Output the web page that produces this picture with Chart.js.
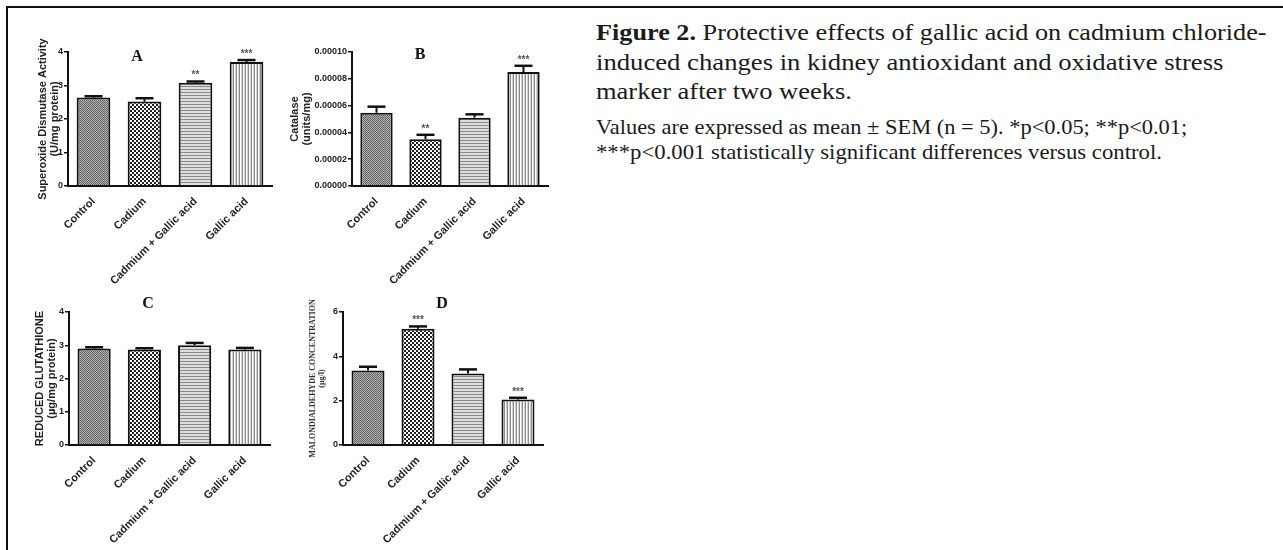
<!DOCTYPE html>
<html>
<head>
<meta charset="utf-8">
<script src="https://cdn.jsdelivr.net/npm/chart.js@4"></script>
<style>
  body { margin: 0; background: #fff; width: 1283px; height: 550px; overflow: hidden; position: relative; }
  .frame { position: absolute; left: 6px; top: 6px; right: 0; bottom: 0; border-top: 2px solid #111; border-left: 2px solid #111; }
  .panel { position: absolute; }
  .cap { position: absolute; left: 596px; white-space: nowrap; font-family: "Liberation Serif", serif; color: #1a1a1a; line-height: 1; transform-origin: 0 0; }
</style>
</head>
<body>
<div class="frame"></div>
<canvas id="chartA" class="panel" width="280" height="280" style="left:8px;top:8px"></canvas>
<canvas id="chartB" class="panel" width="280" height="280" style="left:282px;top:8px"></canvas>
<canvas id="chartC" class="panel" width="280" height="282" style="left:8px;top:268px"></canvas>
<canvas id="chartD" class="panel" width="280" height="282" style="left:282px;top:268px"></canvas>

<div class="cap" style="top:20px;font-size:24px" data-w="671"><b>Figure 2.</b> Protective effects of gallic acid on cadmium chloride-</div>
<div class="cap" style="top:50px;font-size:24px" data-w="628">induced changes in kidney antioxidant and oxidative stress</div>
<div class="cap" style="top:79px;font-size:24px" data-w="256">marker after two weeks.</div>
<div class="cap" style="top:117px;font-size:21px" data-w="591">Values are expressed as mean ± SEM (n = 5). *p&lt;0.05; **p&lt;0.01;</div>
<div class="cap" style="top:142px;font-size:21px" data-w="566">***p&lt;0.001 statistically significant differences versus control.</div>

<script>
const categories = ['Control', 'Cadium', 'Cadmium + Gallic acid', 'Gallic acid'];

// A - superoxide dismutase
const sodValues = [2.64, 2.52, 3.08, 3.70];
const sodSem = [0.04, 0.10, 0.04, 0.06];
const sodStars = ['', '', '**', '***'];
const sodTicks = [0, 1, 2, 3, 4];

// B - catalase
const catValues = [0.0000547, 0.0000348, 0.0000510, 0.0000850];
const catSem = [0.0000045, 0.0000034, 0.0000025, 0.0000047];
const catStars = ['', '**', '', '***'];
const catTicks = [0, 0.00002, 0.00004, 0.00006, 0.00008, 0.0001];

// C - reduced glutathione
const gshValues = [2.90, 2.87, 3.00, 2.87];
const gshSem = [0.04, 0.04, 0.07, 0.05];
const gshStars = ['', '', '', ''];
const gshTicks = [0, 1, 2, 3, 4];

// D - malondialdehyde
const mdaValues = [3.36, 5.25, 3.23, 2.05];
const mdaSem = [0.17, 0.10, 0.18, 0.08];
const mdaStars = ['', '***', '', '***'];
const mdaTicks = [0, 2, 4, 6];

function makeTile(w, h, draw) {
    const c = document.createElement('canvas');
    c.width = w;
    c.height = h;
    const g = c.getContext('2d');
    draw(g);
    return g.createPattern(c, 'repeat');
}

const fills = [
    makeTile(2, 2, g => {
        g.fillStyle = '#b4b4b4'; g.fillRect(0, 0, 2, 2);
        g.fillStyle = '#626262'; g.fillRect(0, 0, 1, 1); g.fillRect(1, 1, 1, 1);
    }),
    makeTile(4, 4, g => {
        g.fillStyle = '#fff'; g.fillRect(0, 0, 4, 4);
        g.fillStyle = '#1e1e1e'; g.fillRect(0, 0, 2, 2); g.fillRect(2, 2, 2, 2);
    }),
    makeTile(3, 3, g => {
        g.fillStyle = '#dedede'; g.fillRect(0, 0, 3, 3);
        g.fillStyle = '#8a8a8a'; g.fillRect(0, 0, 3, 1);
    }),
    makeTile(3, 3, g => {
        g.fillStyle = '#fff'; g.fillRect(0, 0, 3, 3);
        g.fillStyle = '#8c8c8c'; g.fillRect(0, 0, 1, 3);
        g.fillStyle = '#d2d2d2'; g.fillRect(2, 0, 1, 3);
    })
];

const errorBars = {
    id: 'errorBars',
    afterDatasetsDraw(chart, args, opts) {
        const ctx = chart.ctx;
        const y = chart.scales.y;
        const meta = chart.getDatasetMeta(0);
        ctx.save();
        ctx.strokeStyle = '#111';
        meta.data.forEach((bar, i) => {
            const top = y.getPixelForValue(opts.values[i] + opts.sem[i]);
            ctx.lineWidth = 2;
            ctx.beginPath();
            ctx.moveTo(bar.x, bar.y);
            ctx.lineTo(bar.x, top);
            ctx.stroke();
            ctx.lineWidth = 2.5;
            ctx.beginPath();
            ctx.moveTo(bar.x - 9, top);
            ctx.lineTo(bar.x + 9, top);
            ctx.stroke();
            if (opts.stars[i]) {
                ctx.fillStyle = '#555';
                ctx.font = 'bold 10px "Liberation Sans"';
                ctx.textAlign = 'center';
                ctx.textBaseline = 'alphabetic';
                ctx.fillText(opts.stars[i], bar.x, top - 3);
            }
        });
        ctx.fillStyle = '#111';
        ctx.font = 'bold 16px "Liberation Serif"';
        ctx.textAlign = 'center';
        ctx.textBaseline = 'middle';
        ctx.fillText(opts.letter, opts.letterX, opts.letterY);
        ctx.restore();
    }
};

const xFont = { family: '"Liberation Sans", Arial', size: 11, weight: 'bold' };
const yFont = { family: '"Liberation Sans", Arial', size: 9, weight: 'bold' };

function drawPanel(id, values, sem, stars, ticks, p) {
    new Chart(document.getElementById(id), {
        type: 'bar',
        data: {
            labels: categories,
            datasets: [{
                data: values,
                backgroundColor: fills,
                borderColor: '#111',
                borderWidth: 2,
                barPercentage: 0.66,
                categoryPercentage: 1
            }]
        },
        options: {
            responsive: false,
            animation: false,
            events: [],
            layout: { padding: { top: p.top, right: p.right, left: 0, bottom: 0 } },
            plugins: {
                legend: { display: false },
                tooltip: { enabled: false },
                errorBars: { values: values, sem: sem, stars: stars, letter: p.letter, letterX: p.letterX, letterY: p.letterY }
            },
            scales: {
                x: {
                    grid: { display: false, drawTicks: false },
                    border: { display: true, color: '#111', width: 2 },
                    ticks: { autoSkip: false, minRotation: 45, maxRotation: 45, padding: 9, color: '#222', font: xFont },
                    afterFit: s => { s.height = p.xHeight; s.paddingLeft = 0; s.paddingRight = 0; }
                },
                y: {
                    min: ticks[0],
                    max: ticks[ticks.length - 1],
                    afterBuildTicks: s => { s.ticks = ticks.map(v => ({ value: v })); },
                    grid: { drawOnChartArea: false, drawTicks: true, tickLength: 4, color: '#111', lineWidth: 1.5 },
                    border: { color: '#111', width: 2 },
                    ticks: { padding: 1, color: '#222', font: yFont, callback: p.fmt || (v => v) },
                    title: { display: true, text: p.title, color: p.titleColor || '#222', font: p.titleFont, padding: { top: p.titlePad, bottom: 0 } },
                    afterFit: s => { s.width = p.yWidth; s.paddingTop = 0; s.paddingBottom = 0; }
                }
            }
        },
        plugins: [errorBars]
    });
}

const sansTitle = { family: '"Liberation Sans", Arial', size: 11, weight: 'bold', lineHeight: '12px' };

drawPanel('chartA', sodValues, sodSem, sodStars, sodTicks, {
    top: 44, right: 16, xHeight: 102, yWidth: 60, titlePad: 29,
    title: ['Superoxide Dismutase Activity', '(U/mg protein)'], titleFont: sansTitle,
    letter: 'A', letterX: 129, letterY: 49
});

drawPanel('chartB', catValues, catSem, catStars, catTicks, {
    top: 44, right: 14, xHeight: 102, yWidth: 70, titlePad: 7,
    title: ['Catalase', '(units/mg)'], titleFont: sansTitle,
    fmt: v => Number(v).toFixed(5),
    letter: 'B', letterX: 138, letterY: 47
});

drawPanel('chartC', gshValues, gshSem, gshStars, gshTicks, {
    top: 44, right: 18, xHeight: 105, yWidth: 61, titlePad: 26,
    title: ['REDUCED GLUTATHIONE', '(\u00b5g/mg protein)'], titleFont: sansTitle,
    letter: 'C', letterX: 140, letterY: 36
});

drawPanel('chartD', mdaValues, mdaSem, mdaStars, mdaTicks, {
    top: 44, right: 19, xHeight: 105, yWidth: 61, titlePad: 26,
    title: ['MALONDIALDEHYDE CONCENTRATION', '(\u00b5g/l)'],
    titleFont: { family: '"Liberation Serif", serif', size: 8, weight: 'bold', lineHeight: '9px' },
    titleColor: '#333',
    letter: 'D', letterX: 160, letterY: 36
});

// stretch caption lines to the widths of the original layout
document.querySelectorAll('.cap').forEach(el => {
    const w = Number(el.dataset.w);
    el.style.transform = 'scaleX(' + (w / el.scrollWidth) + ')';
});
</script>
</body>
</html>
